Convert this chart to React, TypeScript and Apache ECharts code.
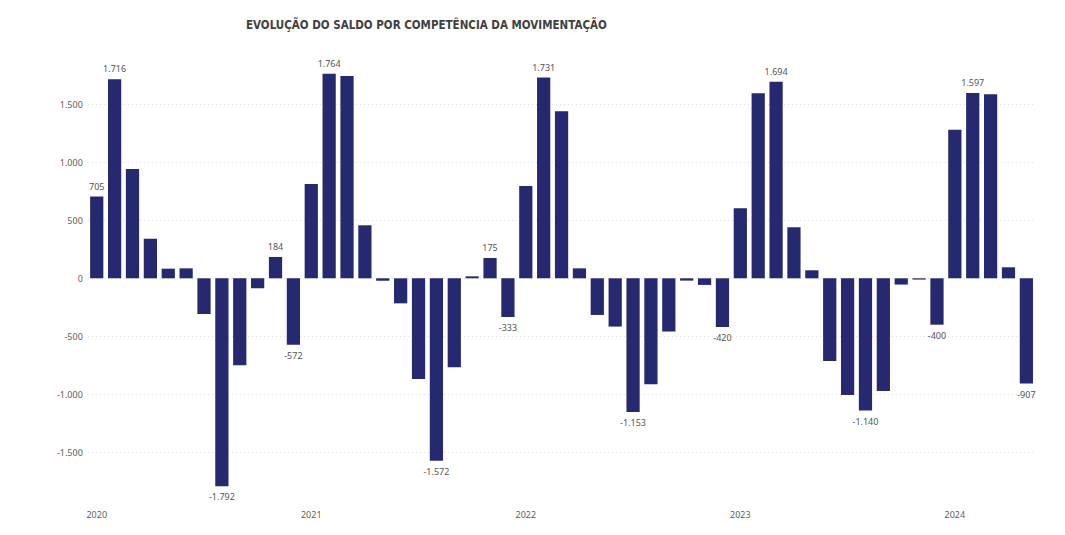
import React, { useEffect, useRef } from "react";
import * as echarts from "echarts";

const months: string[] = [
  "2020-01","2020-02","2020-03","2020-04","2020-05","2020-06","2020-07","2020-08","2020-09","2020-10","2020-11","2020-12",
  "2021-01","2021-02","2021-03","2021-04","2021-05","2021-06","2021-07","2021-08","2021-09","2021-10","2021-11","2021-12",
  "2022-01","2022-02","2022-03","2022-04","2022-05","2022-06","2022-07","2022-08","2022-09","2022-10","2022-11","2022-12",
  "2023-01","2023-02","2023-03","2023-04","2023-05","2023-06","2023-07","2023-08","2023-09","2023-10","2023-11","2023-12",
  "2024-01","2024-02","2024-03","2024-04","2024-05",
];

const saldo2020: number[] = [705, 1716, 942, 341, 83, 86, -308, -1792, -750, -85, 184, -572];
const saldo2021: number[] = [813, 1764, 1744, 457, -21, -216, -868, -1572, -767, 17, 175, -333];
const saldo2022: number[] = [796, 1731, 1440, 86, -316, -416, -1153, -914, -459, -20, -57, -420];
const saldo2023: number[] = [603, 1595, 1694, 440, 69, -713, -1006, -1140, -971, -54, -11, -400];
const saldo2024: number[] = [1281, 1597, 1586, 95, -907];

const labeledMonths: string[] = [
  "2020-01","2020-02","2020-08","2020-11","2020-12",
  "2021-02","2021-08","2021-11","2021-12",
  "2022-02","2022-07","2022-12",
  "2023-03","2023-08","2023-12",
  "2024-02","2024-05",
];

const yTicks: number[] = [-2000, -1500, -1000, -500, 0, 500, 1000, 1500, 2000];

const title = "EVOLUÇÃO DO SALDO POR COMPETÊNCIA DA MOVIMENTAÇÃO";

const fmt = (v: number): string => {
  const s = Math.abs(v).toString().replace(/\B(?=(\d{3})+(?!\d))/g, ".");
  return (v < 0 ? "-" : "") + s;
};

export default function App() {
  const ref = useRef<HTMLDivElement>(null);
  useEffect(() => {
    if (!ref.current) return;
    const chart = echarts.init(ref.current, null, { renderer: "svg" });
    const values = [...saldo2020, ...saldo2021, ...saldo2022, ...saldo2023, ...saldo2024];
    const data = values.map((v, i) => {
      const show = labeledMonths.includes(months[i]);
      return {
        value: v,
        label: {
          show,
          position: v >= 0 ? "top" : "bottom",
          distance: 6,
        },
      };
    });
    const gridColors = yTicks.map((t, i) => (i === 0 || i === yTicks.length - 1 ? "rgba(0,0,0,0)" : "#d9d9d9"));
    chart.setOption({
      animation: false,
      title: {
        text: title,
        left: 246,
        top: 19,
        padding: 0,
        textStyle: {
          fontFamily: "DejaVu Sans Condensed",
          fontWeight: "bold",
          fontSize: 11.5,
          color: "#404040",
        },
      },
      grid: { left: 87.8, right: 29.7, top: 46.3, bottom: 24.7, containLabel: false },
      xAxis: {
        type: "category",
        data: months,
        axisLine: { show: false },
        axisTick: { show: false },
        axisLabel: {
          interval: (idx: number) => idx % 12 === 0,
          formatter: (v: string) => v.slice(0, 4),
          fontFamily: "Noto Sans",
          fontSize: 9,
          color: "#605e5c",
          margin: 0,
        },
      },
      yAxis: {
        type: "value",
        min: yTicks[0],
        max: yTicks[yTicks.length - 1],
        interval: 500,
        axisLine: { show: false },
        axisTick: { show: false },
        axisLabel: {
          formatter: (v: number) => (Math.abs(v) >= 2000 ? "" : fmt(v)),
          fontFamily: "Noto Sans",
          fontSize: 9,
          color: "#605e5c",
          margin: 5,
        },
        splitLine: {
          show: true,
          lineStyle: { type: [1, 3], color: gridColors, width: 1 },
        },
      },
      series: [
        {
          type: "bar",
          data,
          barCategoryGap: "26%",
          itemStyle: { color: "#26296f" },
          label: {
            formatter: (p: any) => fmt(p.value),
            fontFamily: "Noto Sans",
            fontSize: 9,
            color: "#555555",
          },
        },
      ],
    });
    return () => chart.dispose();
  }, []);
  return (
    <div
      ref={ref}
      style={{ position: "absolute", left: 0, top: 0, width: 1065, height: 535, background: "#ffffff" }}
    />
  );
}
